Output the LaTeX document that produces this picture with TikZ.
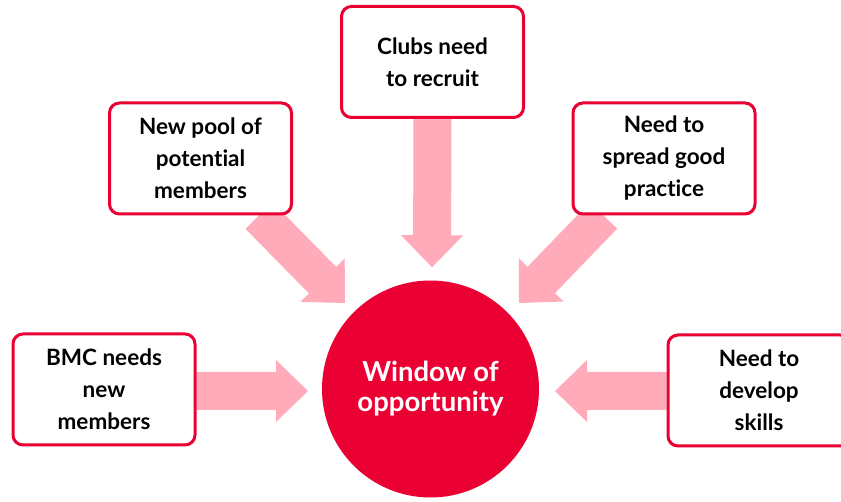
\documentclass[tikz,border=0pt]{standalone}
\usepackage{fontspec}
\setmainfont{Lato}[Ligatures=NoCommon]
\usetikzlibrary{calc}
\definecolor{bmcred}{RGB}{234,0,50}
\definecolor{bmcpink}{RGB}{255,171,185}
\pgfdeclarelayer{bg}
\pgfsetlayers{bg,main}

% Broad block arrow from #1 (tail centre) to #2 (tip)
\newcommand\blockarrow[2]{%
  \fill[bmcpink]
    ($(#1)!19pt!90:(#2)$) --
    ($($(#2)!32pt!(#1)$)!19pt!90:(#2)$) --
    ($($(#2)!32pt!(#1)$)!31pt!90:(#2)$) --
    (#2) --
    ($($(#2)!32pt!(#1)$)!31pt!-90:(#2)$) --
    ($($(#2)!32pt!(#1)$)!19pt!-90:(#2)$) --
    ($(#1)!19pt!-90:(#2)$) -- cycle;}

\begin{document}
\begin{tikzpicture}[x=1pt,y=-1pt,
  idea/.style={draw=bmcred, line width=3pt, fill=white, rounded corners=10pt,
    minimum width=182pt, minimum height=111pt, align=center, inner sep=0pt,
    font=\fontsize{22.5}{32}\selectfont\bfseries},
  hub/.style={circle, fill=bmcred, minimum size=217pt, inner sep=0pt,
    align=center, text=white, font=\fontsize{27.5}{30}\selectfont\bfseries}]
\clip (0,0) rectangle (841,502);

\node[hub] (hub) at (430.5,389) {Window of\\opportunity};

\node[idea] (top) at (432.5,62) {Clubs need\\to recruit};
\node[idea] (ul) at (200.5,158.5) {New pool of\\potential\\members};
\node[idea] (ur) at (664,158.5) {Need to\\spread good\\practice};
\node[idea] (ll) at (104,389.5) {BMC needs\\new\\members};
\node[idea] (lr) at (759,390.5) {Need to\\develop\\skills};

% arrow tails on the boxes, tips just short of the circle
\coordinate (topS) at (top.south);
\coordinate (ulS) at ($(ul.south east)+(-34,0)$);
\coordinate (urS) at ($(ur.south west)+(32,0)$);
\coordinate (llS) at ($(ll.east)+(0,1.5)$);
\coordinate (lrS) at ($(lr.west)+(0,0.5)$);
\coordinate (topT) at ($(hub.north)+(1.5,-13)$);
\coordinate (ulT) at (345,303);
\coordinate (urT) at (519,303);
\coordinate (llT) at (308,391);
\coordinate (lrT) at (555,391);

\begin{pgfonlayer}{bg}
\fill[white] (0,0) rectangle (841,502);
\blockarrow{topS}{topT}
\blockarrow{ulS}{ulT}
\blockarrow{urS}{urT}
\blockarrow{llS}{llT}
\blockarrow{lrS}{lrT}
\end{pgfonlayer}
\end{tikzpicture}
\end{document}
